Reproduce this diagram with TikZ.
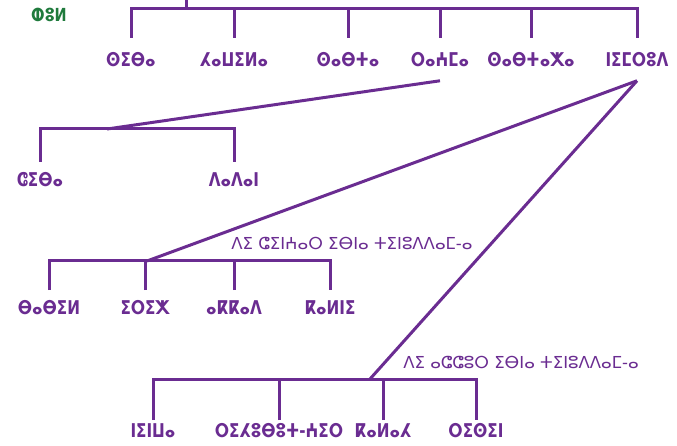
\documentclass[tikz,border=0pt]{standalone}
\usepackage{fontspec}
\usepackage{xcolor}
\usetikzlibrary{calc,positioning}
\newfontfamily\tiffont{DejaVu Sans}
\newfontfamily\tifbold[FakeStretch=0.8]{DejaVu Sans Bold}
\definecolor{treeviolet}{HTML}{6A2C91}
\definecolor{treegreen}{HTML}{1F7A3C}

\begin{document}
\begin{tikzpicture}
    [x=1pt,y=-1pt,
    block/.style={
      text=treeviolet,
      font={\fontsize{19}{19}\tifbold},
      anchor=north,
      inner xsep=0pt,
      inner ysep=10pt
    },
    block1/.style={
      block,
      inner ysep=14pt
    },
    block2/.style={
      block,
      inner ysep=3pt
    },
    note/.style={
      text=treeviolet,
      font={\fontsize{16.5}{16.5}\tiffont},
      inner sep=0pt
    },
    line/.style={
      draw=treeviolet,
      line width=3pt
    }
  ]
    \useasboundingbox (0,0) rectangle (677,446);
    \path (49,15) node[text=treegreen,font={\fontsize{18}{18}\tifbold}] (Q) {ⵀⵓⵍ};
    \coordinate (TOP) at (186,0);
    \coordinate (T) at (186,9);
    \path (131,38) node[block1] (A) {ⵙⵉⴱⴰ}
          (234,38) node[block1] (B) {ⵃⴰⵡⵉⵍⴰ}
          (348,38) node[block1] (C) {ⵙⴰⴱⵜⴰ}
          (440,38) node[block1] (D) {ⵔⴰⵄⵎⴰ}
          (531,38) node[block1] (E) {ⵙⴰⴱⵜⴰⵅⴰ}
          (637,38) node[block1] (F) {ⵏⵉⵎⵔⵓⴷ};
    \draw[line] (TOP) -- (T);
    \draw[line] (A.north) |- (T) -| (F.north);
    \foreach \n in {B,C,D,E}
      \draw[line] (\n.north) -- (\n.north |- T);
    % Raamah
    \coordinate (R) at (107,129);
    \path (40,162) node[block] (G) {ⵛⵉⴱⴰ}
          (234,162) node[block] (H) {ⴷⴰⴷⴰⵏ};
    \draw[line] (G.north) |- (R) -| (H.north);
    \draw[line] (D.south) -- (R);
    % Nimrod, Shinar
    \coordinate (S) at (147,261);
    \path (49,290) node[block] (I) {ⴱⴰⴱⵉⵍ}
          (145,290) node[block] (J) {ⵉⵔⵉⵅ}
          (234,290) node[block] (K) {ⴰⴽⴽⴰⴷ}
          (330,290) node[block] (L) {ⴽⴰⵍⵏⵉ};
    \draw[line] (I.north) |- (S) -| (L.north);
    \foreach \n in {J,K}
      \draw[line] (\n.north) -- (\n.north |- S);
    \draw[line] (F.south) -- (S);
    \draw (352,243) node[note] (LABEL1) {ⴷⵉ ⵛⵉⵏⵄⴰⵔ ⵉⴱⵏⴰ ⵜⵉⵏⵓⴷⴷⴰⵎ-ⴰ};
    % Nimrod, Assur
    \coordinate (U) at (370,379);
    \path (153,420) node[block2] (M) {ⵏⵉⵏⵡⴰ}
          (279,420) node[block2] (N) {ⵔⵉⵃⵓⴱⵓⵜ-ⵄⵉⵔ}
          (383,420) node[block2] (O) {ⴽⴰⵍⴰⵃ}
          (476,420) node[block2] (P) {ⵔⵉⵙⵉⵏ};
    \draw[line] (M.north) |- (U) -| (P.north);
    \foreach \n in {N,O}
      \draw[line] (\n.north) -- (\n.north |- U);
    \draw[line] (F.south) -- (U);
    \draw (521,362) node[note] (LABEL2) {ⴷⵉ ⴰⵛⵛⵓⵔ ⵉⴱⵏⴰ ⵜⵉⵏⵓⴷⴷⴰⵎ-ⴰ};
\end{tikzpicture}
\end{document}
